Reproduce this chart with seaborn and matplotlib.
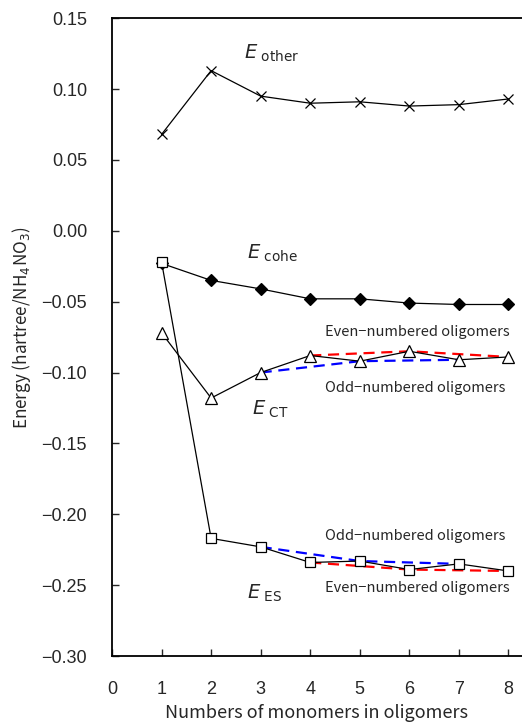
import pandas as pd
import seaborn as sns
import matplotlib.pyplot as plt

# === data ===
n_monomers = [1, 2, 3, 4, 5, 6, 7, 8]
e_other = [0.068, 0.113, 0.095, 0.090, 0.091, 0.088, 0.089, 0.093]
e_cohe = [-0.023, -0.035, -0.041, -0.048, -0.048, -0.051, -0.052, -0.052]
e_ct = [-0.072, -0.118, -0.100, -0.088, -0.092, -0.085, -0.091, -0.089]
e_es = [-0.022, -0.217, -0.223, -0.234, -0.233, -0.239, -0.235, -0.240]

odd_n = [3, 5, 7]
even_n = [4, 6, 8]

# === style ===
sns.set_style("ticks")
plt.rcParams['font.family'] = ['Noto Sans CJK JP', 'DejaVu Sans']
plt.rcParams['mathtext.fontset'] = 'dejavusans'

df = pd.DataFrame({"n": n_monomers, "other": e_other, "cohe": e_cohe,
                   "ct": e_ct, "es": e_es})

fig = plt.figure(figsize=(5.22, 7.24), dpi=100)
ax = fig.add_axes([0.2146, 0.0939, 0.785, 0.881])

# dashed guides (odd / even) under the solid series
for col in ["ct", "es"]:
    sub = df.set_index("n")[col]
    sns.lineplot(x=even_n, y=sub.loc[even_n].values, ax=ax, color="red",
                 linestyle=(0, (5, 3)), linewidth=1.6)
    sns.lineplot(x=odd_n, y=sub.loc[odd_n].values, ax=ax, color="blue",
                 linestyle=(0, (5, 3)), linewidth=1.6)

series = [("other", "x", "k", 7), ("cohe", "D", "k", 6),
          ("ct", "^", "white", 8), ("es", "s", "white", 7)]
for col, mk, fc, ms in series:
    sns.lineplot(data=df, x="n", y=col, ax=ax, color="black", linewidth=0.9,
                 marker=mk, markersize=ms, markerfacecolor=fc,
                 markeredgecolor="black", markeredgewidth=0.9)

# === labels in plot ===
ax.text(2.66, 0.125, r"$E_{\rm\ other}$", fontsize=14, va="center")
ax.text(2.72, -0.0157, r"$E_{\rm\ cohe}$", fontsize=14, va="center")
ax.text(2.82, -0.126, r"$E_{\rm\ CT}$", fontsize=14, va="center")
ax.text(2.72, -0.2555, r"$E_{\rm\ ES}$", fontsize=14, va="center")
ax.text(4.29, -0.0712, "Even\u2212numbered oligomers", fontsize=10.5, va="center")
ax.text(4.29, -0.111, "Odd\u2212numbered oligomers", fontsize=10.5, va="center")
ax.text(4.29, -0.215, "Odd\u2212numbered oligomers", fontsize=10.5, va="center")
ax.text(4.29, -0.252, "Even\u2212numbered oligomers", fontsize=10.5, va="center")

# === axes ===
ax.set_xlim(0, 8.27)
ax.set_ylim(-0.30, 0.15)
ax.set_xticks(range(0, 9))
ax.set_yticks([0.15, 0.10, 0.05, 0.00, -0.05, -0.10, -0.15, -0.20, -0.25, -0.30])
ax.set_yticklabels(["0.15", "0.10", "0.05", "0.00", "\u22120.05", "\u22120.10",
                    "\u22120.15", "\u22120.20", "\u22120.25", "\u22120.30"])
ax.tick_params(direction="in", length=5, width=1, labelsize=13, pad=18)
for lab in ax.get_xticklabels() + ax.get_yticklabels():
    lab.set_family(["Liberation Sans", "DejaVu Sans"])
ax.spines["right"].set_visible(False)
for s in ["left", "bottom", "top"]:
    ax.spines[s].set_linewidth(1.3)
    ax.spines[s].set_color("black")

ax.set_xlabel("Numbers of monomers in oligomers", fontsize=13, labelpad=4)
ax.set_ylabel(r"Energy (hartree/NH$_4$NO$_3$)", fontsize=12.3)
ax.yaxis.set_label_coords(-0.192, 0.514)

fig.savefig("out.png", dpi=100)
